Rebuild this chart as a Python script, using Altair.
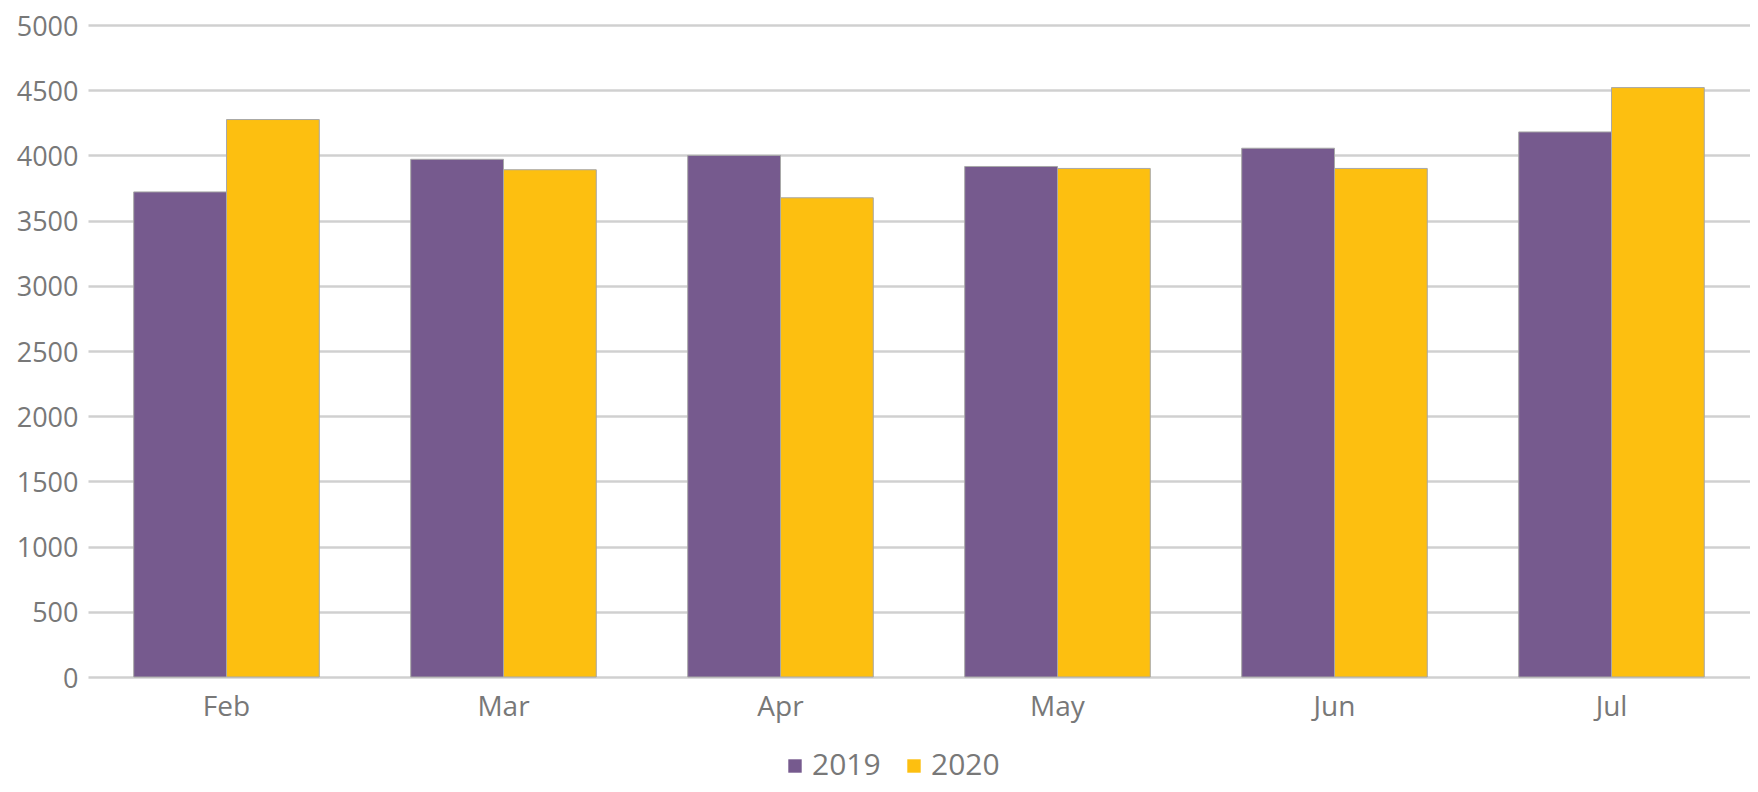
import altair as alt
import pandas as pd

months = ["Feb", "Mar", "Apr", "May", "Jun", "Jul"]
v2019 = [3720, 3970, 4000, 3915, 4055, 4180]
v2020 = [4275, 3890, 3675, 3900, 3900, 4520]
years = ["2019", "2020"]
colors = ["#765A8E", "#FDBF10"]

rows = []
for m, a, b in zip(months, v2019, v2020):
    rows.append({"month": m, "year": "2019", "value": a})
    rows.append({"month": m, "year": "2020", "value": b})
df = pd.DataFrame(rows)

FONT = "Open Sans"
GREY = "#787878"

chart = (
    alt.Chart(df)
    .mark_bar(stroke="#A8A8A8", strokeWidth=1)
    .encode(
        x=alt.X(
            "month:N",
            sort=months,
            title=None,
            scale=alt.Scale(paddingInner=0.33, paddingOuter=0.165),
            axis=alt.Axis(
                labelAngle=0,
                domain=False,
                ticks=False,
                labelFont=FONT,
                labelFontSize=28,
                labelColor=GREY,
                labelPadding=16,
                grid=False,
            ),
        ),
        xOffset=alt.XOffset("year:N", sort=years, scale=alt.Scale(paddingInner=0, paddingOuter=0)),
        y=alt.Y(
            "value:Q",
            title=None,
            scale=alt.Scale(domain=[0, 5000], nice=False),
            axis=alt.Axis(
                values=list(range(0, 5001, 500)),
                format="d",
                domain=False,
                ticks=False,
                labelFont=FONT,
                labelFontSize=27,
                labelColor=GREY,
                labelPadding=10,
                labelOffset=2,
                grid=True,
                gridColor="#D0D0D0",
                gridWidth=2.5,
            ),
        ),
        color=alt.Color(
            "year:N",
            sort=years,
            scale=alt.Scale(domain=years, range=colors),
            legend=alt.Legend(
                title=None,
                orient="none",
                legendX=692,
                legendY=726,
                direction="horizontal",
                symbolType="square",
                symbolSize=180,
                symbolStrokeWidth=0,
                labelFont=FONT,
                labelFontSize=30,
                labelColor=GREY,
                labelOffset=2,
                columnPadding=18,
            ),
        ),
    )
    .properties(
        width=1662,
        height=652,
        autosize=alt.AutoSizeParams(type="none"),
        padding={"left": 80, "top": 17, "right": 0, "bottom": 107},
    )
    .configure_view(stroke=None)
)

chart.save("out.html", embed_options={"renderer": "svg", "actions": False})
